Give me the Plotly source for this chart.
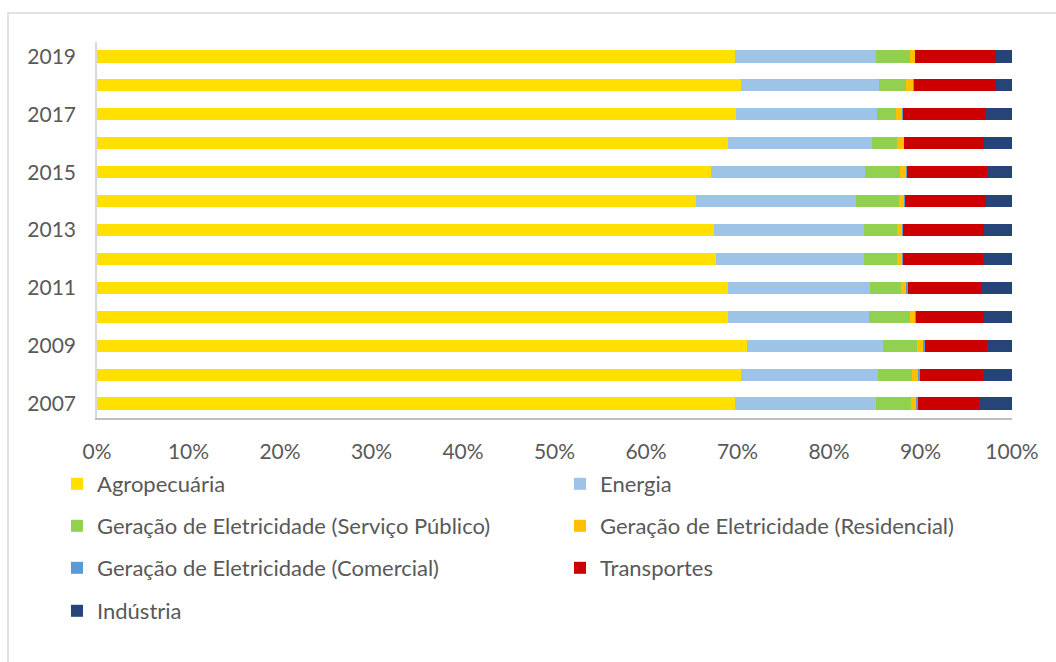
import plotly.graph_objects as go

# Emissions share by sector, 2007-2019 (percent of total per year)
years = [2007, 2008, 2009, 2010, 2011, 2012, 2013, 2014, 2015, 2016, 2017, 2018, 2019]
year_ticks = [2007, 2009, 2011, 2013, 2015, 2017, 2019]

agropecuaria = [69.7, 70.4, 71.0, 69.0, 69.0, 67.6, 67.4, 65.5, 67.1, 69.0, 69.8, 70.4, 69.7]
energia = [15.4, 14.9, 14.9, 15.4, 15.5, 16.2, 16.4, 17.4, 16.8, 15.7, 15.4, 15.1, 15.4]
eletr_servico_publico = [3.9, 3.8, 3.7, 4.4, 3.4, 3.6, 3.6, 4.7, 3.85, 2.75, 2.1, 2.95, 3.7]
eletr_residencial = [0.6, 0.7, 0.7, 0.6, 0.6, 0.6, 0.6, 0.7, 0.75, 0.75, 0.75, 0.75, 0.6]
eletr_comercial = [0.1, 0.1, 0.2, 0.1, 0.1, 0.1, 0.05, 0.05, 0.05, 0.05, 0.05, 0.05, 0.05]
transportes = [6.7, 6.9, 6.8, 7.4, 8.0, 8.7, 8.85, 8.85, 8.75, 8.65, 8.9, 8.95, 8.65]
industria = [3.6, 3.2, 2.7, 3.1, 3.4, 3.2, 3.1, 2.8, 2.7, 3.1, 3.0, 1.8, 1.9]

x_ticks = [0, 10, 20, 30, 40, 50, 60, 70, 80, 90, 100]

series = [
    ("Agropecuária", agropecuaria, "#FFE000"),
    ("Energia", energia, "#9DC3E6"),
    ("Geração de Eletricidade (Serviço Público)", eletr_servico_publico, "#92D050"),
    ("Geração de Eletricidade (Residencial)", eletr_residencial, "#FFC000"),
    ("Geração de Eletricidade (Comercial)", eletr_comercial, "#5B9BD5"),
    ("Transportes", transportes, "#CC0000"),
    ("Indústria", industria, "#264478"),
]

FONT = "Lato, 'Open Sans', sans-serif"
TEXT = "#595959"

W, H = 1056, 662
ML, MR, MT, MB = 97, 44, 42, 244
plot_h = H - MT - MB


def py(pix):
    return (H - MB - pix) / plot_h


def px(pix):
    return (pix - ML) / (W - ML - MR)


# legend entries laid out in two columns, one legend box per entry
col_x = [57, 560]
row_y = [484, 526, 568, 611]

fig = go.Figure()
legends = {}
for i, (name, vals, color) in enumerate(series):
    key = "legend" if i == 0 else f"legend{i + 1}"
    fig.add_trace(go.Bar(
        y=years, x=vals, name=name, orientation="h",
        marker=dict(color=color, line=dict(width=0)),
        legend=key, showlegend=True,
    ))
    legends[key] = dict(
        x=px(col_x[i % 2]), y=py(row_y[i // 2]),
        xanchor="left", yanchor="middle", orientation="h",
        font=dict(family=FONT, size=22, color=TEXT),
        bgcolor="rgba(0,0,0,0)",
    )

fig.update_layout(
    width=W, height=H,
    margin=dict(l=ML, r=MR, t=MT, b=MB),
    paper_bgcolor="white", plot_bgcolor="white",
    barmode="stack", bargap=0.58,
    showlegend=True,
    font=dict(family=FONT, size=21, color=TEXT),
    xaxis=dict(
        range=[0, 100], tickvals=x_ticks,
        ticktext=[f"{v}%" for v in x_ticks],
        showgrid=False, zeroline=False,
        showline=True, linecolor="#BFBFBF", linewidth=1.5,
        ticks="", ticklabelstandoff=14,
        tickfont=dict(family=FONT, size=21, color=TEXT),
    ),
    yaxis=dict(
        type="category", categoryorder="array", categoryarray=years,
        tickvals=year_ticks, ticktext=[str(y) for y in year_ticks],
        showgrid=False, zeroline=False,
        showline=True, linecolor="#D9D9D9", linewidth=1.5,
        ticks="", ticklabelstandoff=15,
        tickfont=dict(family=FONT, size=21, color=TEXT),
    ),
    shapes=[dict(
        type="rect", xref="paper", yref="paper",
        x0=px(8), x1=px(1070), y0=py(13), y1=py(680),
        line=dict(color="#D9D9D9", width=1.5), fillcolor="rgba(0,0,0,0)",
        layer="below",
    )],
    **legends,
)

fig.write_html("out.html")
